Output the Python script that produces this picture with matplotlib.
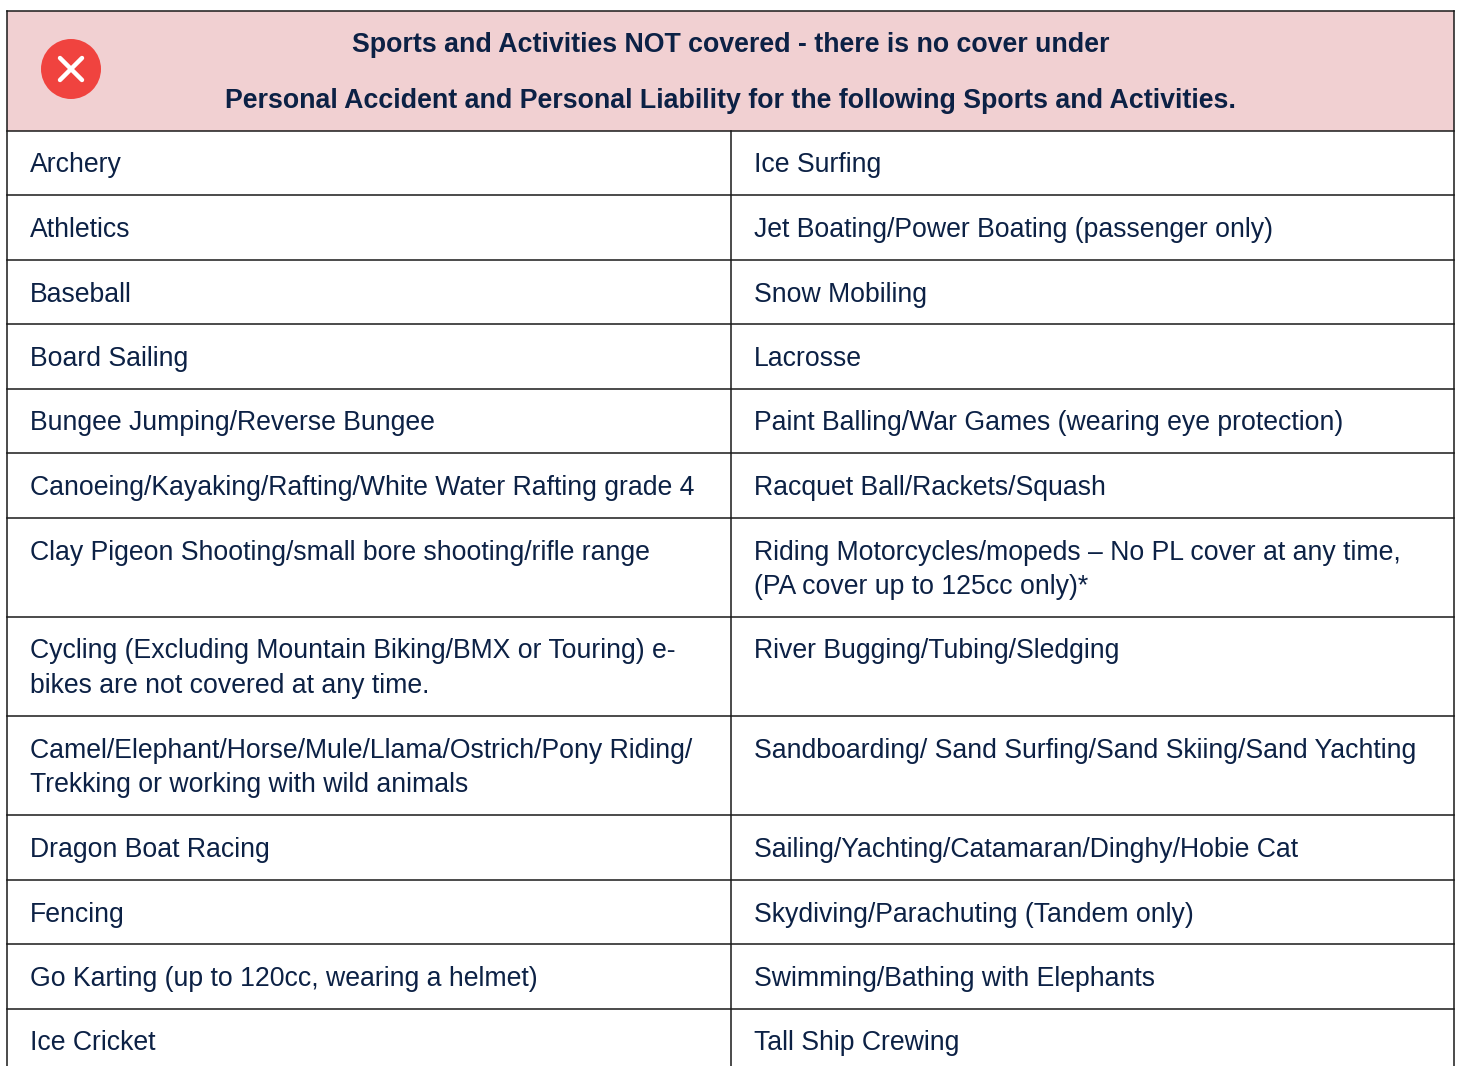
import matplotlib
matplotlib.use("Agg")
import matplotlib.pyplot as plt
from matplotlib.patches import Rectangle, Circle

W, H = 1459, 1066

header_lines = ["Sports and Activities NOT covered - there is no cover under",
                "Personal Accident and Personal Liability for the following Sports and Activities."]
left_col = ["Archery", "Athletics", "Baseball", "Board Sailing", "Bungee Jumping/Reverse Bungee",
            "Canoeing/Kayaking/Rafting/White Water Rafting grade 4",
            "Clay Pigeon Shooting/small bore shooting/rifle range",
            "Cycling (Excluding Mountain Biking/BMX or Touring) e-\nbikes are not covered at any time.",
            "Camel/Elephant/Horse/Mule/Llama/Ostrich/Pony Riding/\nTrekking or working with wild animals",
            "Dragon Boat Racing", "Fencing", "Go Karting (up to 120cc, wearing a helmet)", "Ice Cricket"]
right_col = ["Ice Surfing", "Jet Boating/Power Boating (passenger only)", "Snow Mobiling", "Lacrosse",
             "Paint Balling/War Games (wearing eye protection)", "Racquet Ball/Rackets/Squash",
             "Riding Motorcycles/mopeds \u2013 No PL cover at any time,\n(PA cover up to 125cc only)*",
             "River Bugging/Tubing/Sledging",
             "Sandboarding/ Sand Surfing/Sand Skiing/Sand Yachting",
             "Sailing/Yachting/Catamaran/Dinghy/Hobie Cat", "Skydiving/Parachuting (Tandem only)",
             "Swimming/Bathing with Elephants", "Tall Ship Crewing"]
row_lines = [130.5, 195, 259.5, 324, 388.5, 453, 517.5, 616.5, 715.5, 815, 879.5, 944, 1008.5]

plt.rcParams["font.family"] = ["Liberation Sans", "DejaVu Sans"]
fig = plt.figure(figsize=(W / 100, H / 100), dpi=100)
ax = fig.add_axes([0, 0, 1, 1])
ax.set_xlim(0, W)
ax.set_ylim(H, 0)
ax.axis("off")

navy = "#0c2145"
line = "#1a1a1a"
ax.add_patch(Rectangle((7, 11), 1447, 120, fc="#f1d0d2", ec="none"))
ax.plot([7, 1454], [10.5, 10.5], color=line, lw=1.1)
ax.plot([7, 7], [10.5, H], color=line, lw=1.1)
ax.plot([1454, 1454], [10.5, H], color=line, lw=1.1)
ax.plot([731, 731], [131, H], color=line, lw=1.1)
for y in row_lines:
    ax.plot([7, 1454], [y, y], color=line, lw=1.1)

ax.add_patch(Circle((71, 69), 30, fc="#f0433f", ec="none"))
ax.plot([60, 82], [58, 80], color="white", lw=3.2, solid_capstyle="round")
ax.plot([60, 82], [80, 58], color="white", lw=3.2, solid_capstyle="round")

ax.text(730.5, 45.5, header_lines[0], ha="center", va="center", fontsize=19.28, fontweight="bold", color=navy)
ax.text(730.5, 101.5, header_lines[1], ha="center", va="center", fontsize=19.28, fontweight="bold", color=navy)

for i, (a, b) in enumerate(zip(left_col, right_col)):
    y = row_lines[i] + 35
    for x, s in ((30, a), (754, b)):
        for j, part in enumerate(s.split("\n")):
            ax.text(x, y + j * 34.5, part, ha="left", va="center", fontsize=19.2, color=navy)

fig.savefig("out.png", dpi=100)
